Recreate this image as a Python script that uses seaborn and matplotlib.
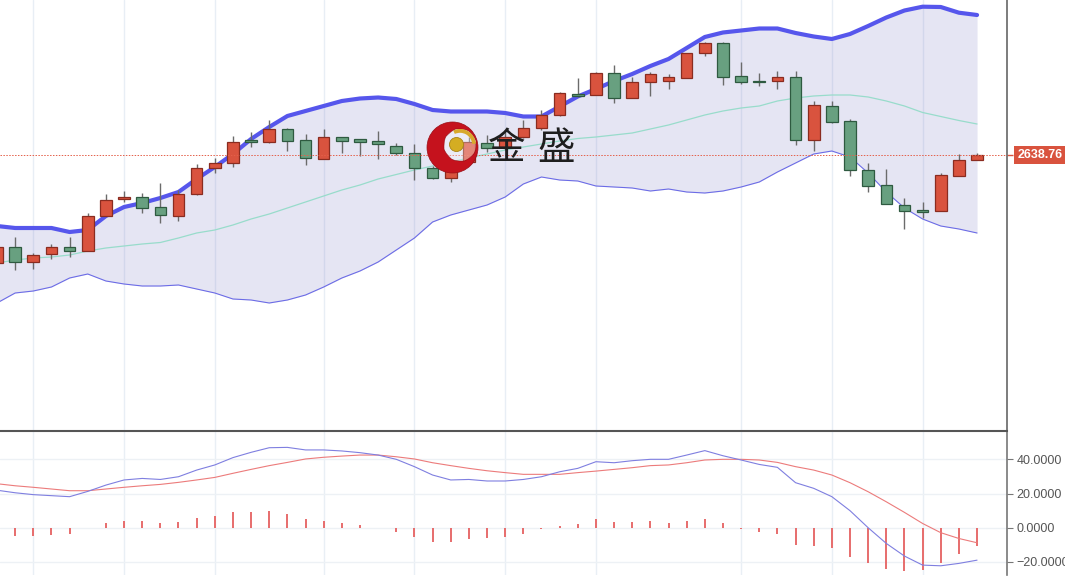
import numpy as np
import matplotlib
matplotlib.use('Agg')
import matplotlib.pyplot as plt
import matplotlib.transforms as mtransforms
from matplotlib.patches import Circle, Wedge, PathPatch
from matplotlib.path import Path
import seaborn as sns

# candles
opens = [2530.8, 2546.8, 2531.8, 2539.8, 2546.8, 2542.8, 2577.8, 2594.8, 2596.8, 2586.8,
         2577.8, 2599.8, 2625.8, 2630.8, 2653.8, 2651.8, 2664.8, 2653.8, 2634.8, 2656.8,
         2654.8, 2652.8, 2647.8, 2640.8, 2625.8, 2615.8, 2631.8, 2650.8, 2646.8, 2656.8,
         2665.8, 2678.8, 2699.8, 2698.8, 2720.8, 2695.8, 2711.8, 2712.8, 2715.8, 2740.8,
         2750.8, 2717.8, 2712.3, 2712.8, 2716.8, 2653.8, 2687.8, 2672.8, 2623.8, 2608.8,
         2588.8, 2583.8, 2582.8, 2617.8, 2633.8]
highs = [2548.8, 2556.8, 2540.8, 2549.8, 2556.8, 2580.8, 2599.8, 2602.8, 2600.8, 2610.8,
         2603.8, 2629.8, 2635.8, 2657.8, 2661.8, 2673.8, 2665.8, 2659.8, 2664.8, 2656.8,
         2654.8, 2662.8, 2650.8, 2649.8, 2627.8, 2627.8, 2656.8, 2658.8, 2662.8, 2673.8,
         2683.8, 2701.8, 2715.8, 2721.8, 2728.8, 2716.8, 2721.8, 2719.8, 2740.8, 2751.8,
         2751.8, 2731.8, 2720.8, 2722.8, 2722.8, 2692.8, 2692.8, 2674.8, 2630.8, 2624.8,
         2595.8, 2591.8, 2620.8, 2639.8, 2640.8]
lows = [2527.8, 2523.8, 2524.8, 2534.8, 2536.8, 2542.8, 2577.8, 2591.8, 2580.8, 2570.8,
        2572.8, 2598.8, 2620.8, 2626.8, 2646.8, 2650.8, 2642.8, 2628.8, 2634.8, 2640.8,
        2637.8, 2634.8, 2638.8, 2613.8, 2614.8, 2611.8, 2630.8, 2641.8, 2643.8, 2655.8,
        2663.8, 2677.8, 2696.8, 2698.8, 2690.8, 2695.8, 2697.8, 2704.8, 2715.8, 2737.8,
        2708.8, 2709.8, 2707.8, 2704.8, 2648.8, 2642.8, 2670.8, 2617.8, 2601.8, 2589.8,
        2564.8, 2575.8, 2582.8, 2617.8, 2633.8]
closes = [2546.8, 2531.8, 2538.8, 2546.8, 2542.8, 2577.8, 2593.8, 2596.8, 2585.8, 2578.8,
          2599.8, 2625.8, 2630.8, 2651.8, 2651.8, 2664.8, 2652.8, 2635.8, 2656.8, 2652.8,
          2651.8, 2649.8, 2640.8, 2625.8, 2615.8, 2625.8, 2651.8, 2645.8, 2656.8, 2665.8,
          2678.8, 2700.8, 2697.8, 2720.8, 2695.8, 2711.8, 2719.8, 2716.8, 2740.8, 2750.8,
          2716.8, 2711.8, 2711.8, 2716.8, 2653.8, 2688.8, 2671.8, 2623.8, 2607.8, 2589.8,
          2582.8, 2581.8, 2618.8, 2633.8, 2638.76]

# bollinger bands
boll_upper = [2567.8, 2565.8, 2565.8, 2565.8, 2561.8, 2563.8, 2577.8, 2586.8, 2590.8, 2595.8,
              2601.8, 2614.8, 2626.8, 2639.8, 2654.8, 2666.8, 2677.8, 2682.8, 2687.8, 2692.8,
              2695.3, 2696.3, 2694.8, 2689.8, 2683.8, 2682.3, 2682.3, 2682.3, 2680.8, 2677.3,
              2677.3, 2687.3, 2697.3, 2704.8, 2712.8, 2719.8, 2727.8, 2734.8, 2745.8, 2756.8,
              2761.3, 2763.3, 2765.3, 2765.3, 2760.8, 2757.3, 2754.8, 2759.8, 2767.8, 2776.3,
              2783.3, 2787.1, 2786.8, 2781.1, 2778.8]
boll_mid = [2530.8, 2533.8, 2535.8, 2536.8, 2538.8, 2542.8, 2545.8, 2547.8, 2549.8, 2551.3,
            2555.8, 2560.8, 2563.8, 2568.8, 2574.8, 2579.8, 2585.8, 2591.8, 2597.8, 2603.8,
            2608.8, 2614.8, 2619.3, 2623.8, 2627.8, 2631.8, 2635.8, 2639.8, 2643.8, 2646.8,
            2649.8, 2652.8, 2655.3, 2656.8, 2658.8, 2660.8, 2664.8, 2668.8, 2673.8, 2678.8,
            2682.8, 2685.8, 2687.8, 2692.8, 2695.8, 2697.8, 2698.8, 2698.8, 2696.8, 2692.8,
            2687.8, 2681.3, 2677.3, 2673.3, 2669.8]
boll_lower = [2490.8, 2500.8, 2502.8, 2506.8, 2515.8, 2519.8, 2512.8, 2509.8, 2507.8, 2507.8,
              2508.8, 2504.8, 2500.8, 2494.8, 2493.8, 2490.8, 2493.8, 2498.8, 2506.8, 2515.8,
              2522.8, 2531.8, 2543.8, 2555.8, 2571.8, 2578.8, 2583.8, 2588.8, 2596.8, 2609.8,
              2616.8, 2613.8, 2612.8, 2607.8, 2606.8, 2605.8, 2602.8, 2604.8, 2601.8, 2600.8,
              2602.8, 2606.8, 2611.8, 2621.8, 2630.8, 2639.8, 2642.8, 2636.8, 2620.8, 2601.8,
              2585.8, 2574.8, 2567.8, 2564.8, 2560.8]

# MACD panel
macd_dif = [22.0, 20.5, 19.4, 18.8, 18.2, 21.3, 25.0, 28.0, 28.9, 28.3,
            29.9, 33.8, 36.8, 41.1, 44.2, 46.9, 47.1, 45.6, 45.6, 45.0,
            44.0, 42.6, 40.1, 35.8, 30.9, 28.0, 28.3, 27.4, 27.4, 28.3,
            29.9, 32.8, 34.8, 38.7, 38.1, 39.3, 40.1, 40.1, 42.6, 45.2,
            42.2, 39.7, 37.1, 35.4, 26.4, 23.1, 18.2, 10.0, 0.0, -9.2,
            -16.6, -21.9, -22.3, -20.9, -19.0]
macd_dea = [25.8, 24.6, 23.7, 22.7, 21.7, 21.7, 22.7, 23.7, 24.6, 25.4,
            26.6, 28.0, 29.5, 31.9, 34.2, 36.4, 38.3, 40.3, 41.3, 42.0,
            42.6, 42.6, 41.6, 40.3, 38.1, 36.4, 34.8, 33.4, 32.3, 31.3,
            31.3, 31.3, 32.3, 33.2, 34.2, 35.2, 36.4, 36.8, 38.1, 39.7,
            40.1, 40.1, 39.7, 38.3, 35.8, 33.8, 30.9, 26.4, 21.1, 15.2,
            9.0, 2.5, -2.9, -6.3, -8.8]
macd_hist = [-3.8, -4.9, -4.9, -4.3, -3.5, -0.3, 2.5, 4.1, 4.1, 2.9,
             3.5, 5.9, 6.8, 9.0, 9.4, 10.0, 8.2, 5.1, 3.9, 2.9,
             1.4, 0.1, -2.3, -5.7, -8.2, -8.6, -6.6, -6.3, -5.3, -3.7,
             -0.6, 1.2, 2.3, 5.1, 3.5, 3.5, 3.9, 2.9, 4.1, 5.1,
             2.5, -0.6, -2.3, -3.7, -10.2, -10.8, -12.1, -17.0, -20.5, -23.9,
             -25.4, -24.8, -20.5, -15.4, -10.8]

grid_bars = [2, 7, 12, 18, 23, 28, 33, 41, 46, 51]
macd_ticks = [-20, 0, 20, 40]
brand = ['金', '盛']

UP, UP_EDGE = '#d9533e', '#8a2c20'
DOWN, DOWN_EDGE = '#68a080', '#2e5a40'

sns.set_style('white')
plt.rcParams['font.family'] = ['Liberation Sans', 'DejaVu Sans']

fig = plt.figure(figsize=(10.65, 5.8), dpi=100)
ax = fig.add_axes([0, 149 / 580, 1007 / 1065, 431 / 580])
axm = fig.add_axes([0, 5 / 580, 1007 / 1065, 144 / 580])

idx = np.arange(len(closes))
o, h, l, c = map(np.array, (opens, highs, lows, closes))
xlim = (0.165, 55.65)

# --- price panel ---
for g in grid_bars:
    ax.axvline(g, color='#e8eef5', lw=1, zorder=0)
ax.fill_between(idx, boll_lower, boll_upper, color='#7070c0', alpha=0.18, lw=0, zorder=1)
sns.lineplot(x=idx, y=boll_mid, ax=ax, color='#98dccb', lw=0.9, zorder=2)
sns.lineplot(x=idx, y=boll_lower, ax=ax, color='#6c6ce6', lw=0.8, zorder=2)
sns.lineplot(x=idx, y=boll_upper, ax=ax, color='#5656ec', lw=3.0, zorder=2)

up = c >= o
body = np.maximum(np.abs(c - o), 1.5)
bottom = np.minimum(o, c)
ax.vlines(idx, l, h, color='#6b6b6b', lw=1.0, zorder=3)
ax.bar(idx[up], body[up], bottom=bottom[up], width=0.64, color=UP,
       edgecolor=UP_EDGE, lw=0.9, zorder=4)
ax.bar(idx[~up], body[~up], bottom=bottom[~up], width=0.64, color=DOWN,
       edgecolor=DOWN_EDGE, lw=0.9, zorder=4)

last = closes[-1]
ax.axhline(last, color='#e4604a', lw=0.7, ls=(0, (1.5, 1.5)), zorder=5)

ax.set_xlim(*xlim)
ax.set_ylim(2362.8, 2793.8)
ax.set_xticks([])
ax.yaxis.tick_right()
ax.set_yticks([last])
ax.set_yticklabels([''])
ax.tick_params(axis='y', length=4, width=1, color=UP, right=True)
for s in ['left', 'top', 'bottom']:
    ax.spines[s].set_visible(False)
ax.spines['right'].set_color('#666666')
ax.spines['right'].set_linewidth(1.2)
ax.set_xlabel('')
ax.set_ylabel('')

# last price tag
tag = mtransforms.blended_transform_factory(ax.transAxes, ax.transData)
ax.text(1.0105, last, f'{last:.2f}', transform=tag, ha='left', va='center',
        color='white', fontsize=9, fontweight='bold', clip_on=False,
        bbox=dict(boxstyle='square,pad=0.25', fc=UP, ec='none'))

# --- MACD panel ---
for g in grid_bars:
    axm.axvline(g, color='#e9eff5', lw=1, zorder=0)
for t in macd_ticks:
    axm.axhline(t, color='#edf1f5', lw=1, zorder=0)
axm.vlines(idx, 0, macd_hist, color='#e76c6c', lw=1.4, zorder=2)
sns.lineplot(x=idx, y=macd_dea, ax=axm, color='#ec7b7b', lw=0.8, zorder=3)
sns.lineplot(x=idx, y=macd_dif, ax=axm, color='#7f7fe0', lw=0.8, zorder=3)

axm.set_xlim(*xlim)
axm.set_ylim(-27.7, 56.7)
axm.set_xticks([])
axm.yaxis.tick_right()
axm.set_yticks(macd_ticks)
axm.set_yticklabels([f'{v:.4f}'.replace('-', '\u2212') for v in macd_ticks])
axm.tick_params(axis='y', length=4, width=0.8, color='#777777', labelsize=9,
                labelcolor='#555555', pad=3, right=True)
for s in ['left', 'bottom']:
    axm.spines[s].set_visible(False)
axm.spines['top'].set_color('#555555')
axm.spines['top'].set_linewidth(1.5)
axm.spines['right'].set_color('#777777')
axm.spines['right'].set_linewidth(1.2)
axm.set_xlabel('')
axm.set_ylabel('')

# --- watermark ---
lg = fig.add_axes([426 / 1065, 1 - 174 / 580, 53 / 1065, 53 / 580])
lg.set_xlim(0, 53)
lg.set_ylim(0, 53)
lg.axis('off')
outer = Path.circle((26.5, 26.5), 25.5)
inner = Path.circle((34, 29), 16)
hole = Path(inner.vertices[::-1], inner.codes)
lg.add_patch(PathPatch(Path.make_compound_path(outer, hole), fc='#c5121d', ec='#9a0d15', lw=0.5))
lg.add_patch(Circle((34, 29), 16, fc='white', alpha=0.3, lw=0))
lg.add_patch(Wedge((34, 29), 16, 5, 115, width=3.8, fc='#d8a92c', lw=0))
lg.add_patch(Circle((30.5, 29.5), 7, fc='#d4ad22', ec='#a88416', lw=0.6))

for ch, px in zip(brand, [507, 556]):
    fig.text(px / 1065, 1 - 148 / 580, ch, ha='center', va='center', fontsize=27,
             color='#1e1e1e', family=['Noto Sans CJK SC', 'DejaVu Sans'])

fig.savefig('out.png', dpi=100)
